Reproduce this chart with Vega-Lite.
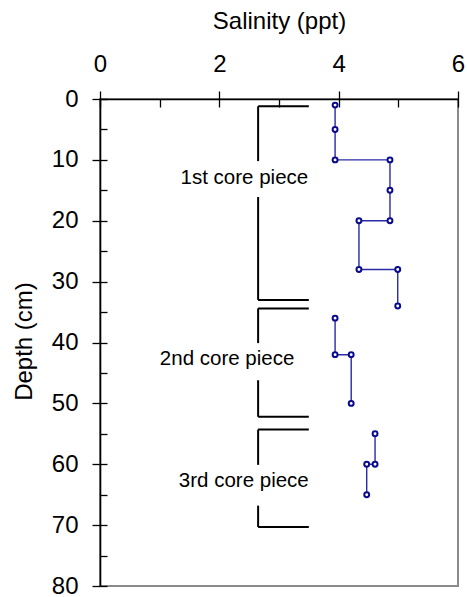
{
  "$schema": "https://vega.github.io/schema/vega-lite/v6.json",
  "width": 358,
  "height": 487,
  "autosize": {"type": "none"},
  "padding": {"left": 100, "top": 99, "right": 9, "bottom": 11},
  "background": "white",
  "config": {
    "font": "Liberation Sans",
    "view": {"stroke": "#8a8a8a", "strokeWidth": 2}
  },
  "datasets": {
    "brackets": [
      {"piece": "1st", "x": 2.65, "x2": 3.5, "y": 1.2, "y2": 1.2},
      {"piece": "1st", "x": 2.65, "x2": 2.65, "y": 1.2, "y2": 10.2},
      {"piece": "1st", "x": 2.65, "x2": 2.65, "y": 16.1, "y2": 33.0},
      {"piece": "1st", "x": 2.65, "x2": 3.5, "y": 33.0, "y2": 33.0},
      {"piece": "2nd", "x": 2.65, "x2": 3.5, "y": 34.4, "y2": 34.4},
      {"piece": "2nd", "x": 2.65, "x2": 2.65, "y": 34.4, "y2": 40.1},
      {"piece": "2nd", "x": 2.65, "x2": 2.65, "y": 46.2, "y2": 52.2},
      {"piece": "2nd", "x": 2.65, "x2": 3.5, "y": 52.2, "y2": 52.2},
      {"piece": "3rd", "x": 2.65, "x2": 3.5, "y": 54.3, "y2": 54.3},
      {"piece": "3rd", "x": 2.65, "x2": 2.65, "y": 54.3, "y2": 60.1},
      {"piece": "3rd", "x": 2.65, "x2": 2.65, "y": 66.8, "y2": 70.3},
      {"piece": "3rd", "x": 2.65, "x2": 3.5, "y": 70.3, "y2": 70.3}
    ],
    "salinity": [
      {"piece": "1st", "order": 1, "depth": 1, "salinity": 3.94},
      {"piece": "1st", "order": 2, "depth": 5, "salinity": 3.94},
      {"piece": "1st", "order": 3, "depth": 10, "salinity": 3.94},
      {"piece": "1st", "order": 4, "depth": 10, "salinity": 4.86},
      {"piece": "1st", "order": 5, "depth": 15, "salinity": 4.86},
      {"piece": "1st", "order": 6, "depth": 20, "salinity": 4.86},
      {"piece": "1st", "order": 7, "depth": 20, "salinity": 4.34},
      {"piece": "1st", "order": 8, "depth": 28, "salinity": 4.34},
      {"piece": "1st", "order": 9, "depth": 28, "salinity": 4.99},
      {"piece": "1st", "order": 10, "depth": 34, "salinity": 4.99},
      {"piece": "2nd", "order": 11, "depth": 36, "salinity": 3.94},
      {"piece": "2nd", "order": 12, "depth": 42, "salinity": 3.94},
      {"piece": "2nd", "order": 13, "depth": 42, "salinity": 4.21},
      {"piece": "2nd", "order": 14, "depth": 50, "salinity": 4.21},
      {"piece": "3rd", "order": 15, "depth": 55, "salinity": 4.61},
      {"piece": "3rd", "order": 16, "depth": 60, "salinity": 4.61},
      {"piece": "3rd", "order": 17, "depth": 60, "salinity": 4.47},
      {"piece": "3rd", "order": 18, "depth": 65, "salinity": 4.47}
    ],
    "labels": [
      {"label": "1st core piece", "x": 2.42, "depth": 14.0},
      {"label": "2nd core piece", "x": 2.13, "depth": 43.7},
      {"label": "3rd core piece", "x": 2.41, "depth": 63.8}
    ]
  },
  "resolve": {"axis": {"x": "independent", "y": "independent"}},
  "layer": [
    {
      "data": {"name": "brackets"},
      "mark": {"type": "rule", "color": "black", "strokeWidth": 2},
      "encoding": {
        "x": {
          "field": "x", "type": "quantitative",
          "scale": {"domain": [0, 6], "nice": false, "zero": false},
          "axis": {
            "orient": "top", "values": [0, 2, 4, 6], "format": "d",
            "title": "Salinity (ppt)",
            "titleFontSize": 24, "titleFontWeight": "normal", "titleColor": "black",
            "titleX": 179, "titleY": -70.5, "titleBaseline": "alphabetic", "titleAlign": "center",
            "labelFontSize": 24, "labelColor": "black", "labelPadding": 20, "labelBaseline": "alphabetic",
            "labelFlush": false, "labelOverlap": false,
            "tickSize": 8, "tickColor": "black", "tickWidth": 1.3,
            "domainColor": "black", "domainWidth": 1.6, "grid": false
          }
        },
        "x2": {"field": "x2"},
        "y": {
          "field": "y", "type": "quantitative",
          "scale": {"domain": [0, 80], "reverse": true, "nice": false, "zero": false},
          "axis": {
            "orient": "left", "values": [0, 10, 20, 30, 40, 50, 60, 70, 80], "format": "d",
            "title": "Depth (cm)",
            "titleFontSize": 24, "titleFontWeight": "normal", "titleColor": "black",
            "titleX": -69, "titleY": 242, "titleBaseline": "alphabetic", "titleAlign": "center", "titleAngle": -90,
            "labelFontSize": 24, "labelColor": "black", "labelPadding": 14,
            "labelFlush": false, "labelOverlap": false,
            "tickSize": 8, "tickColor": "black", "tickWidth": 1.3,
            "domainColor": "black", "domainWidth": 1.6, "grid": false
          }
        },
        "y2": {"field": "y2"}
      }
    },
    {
      "data": {"name": "salinity"},
      "mark": {"type": "line", "color": "#2a2aa8", "strokeWidth": 1.4},
      "encoding": {
        "x": {"field": "salinity", "type": "quantitative", "axis": {
          "orient": "top", "values": [0, 1, 2, 3, 4, 5, 6], "labels": false, "domain": false,
          "title": null, "tickSize": -8, "tickColor": "black", "tickWidth": 1.3, "grid": false
        }},
        "y": {"field": "depth", "type": "quantitative", "axis": {
          "orient": "left", "values": [0, 5, 10, 15, 20, 25, 30, 35, 40, 45, 50, 55, 60, 65, 70, 75, 80],
          "labels": false, "domain": false,
          "title": null, "tickSize": -7, "tickColor": "black", "tickWidth": 1.3, "grid": false
        }},
        "detail": {"field": "piece"},
        "order": {"field": "order", "type": "quantitative"}
      }
    },
    {
      "data": {"name": "salinity"},
      "mark": {"type": "point", "shape": "circle", "filled": false, "fill": "white", "fillOpacity": 1, "stroke": "#0a0a8c", "strokeWidth": 2, "size": 24, "opacity": 1},
      "encoding": {
        "x": {"field": "salinity", "type": "quantitative", "axis": null},
        "y": {"field": "depth", "type": "quantitative", "axis": null}
      }
    },
    {
      "data": {"name": "labels"},
      "mark": {"type": "text", "fontSize": 20.5, "color": "black", "align": "center", "baseline": "alphabetic"},
      "encoding": {
        "x": {"field": "x", "type": "quantitative", "axis": null},
        "y": {"field": "depth", "type": "quantitative", "axis": null},
        "text": {"field": "label"}
      }
    }
  ]
}
